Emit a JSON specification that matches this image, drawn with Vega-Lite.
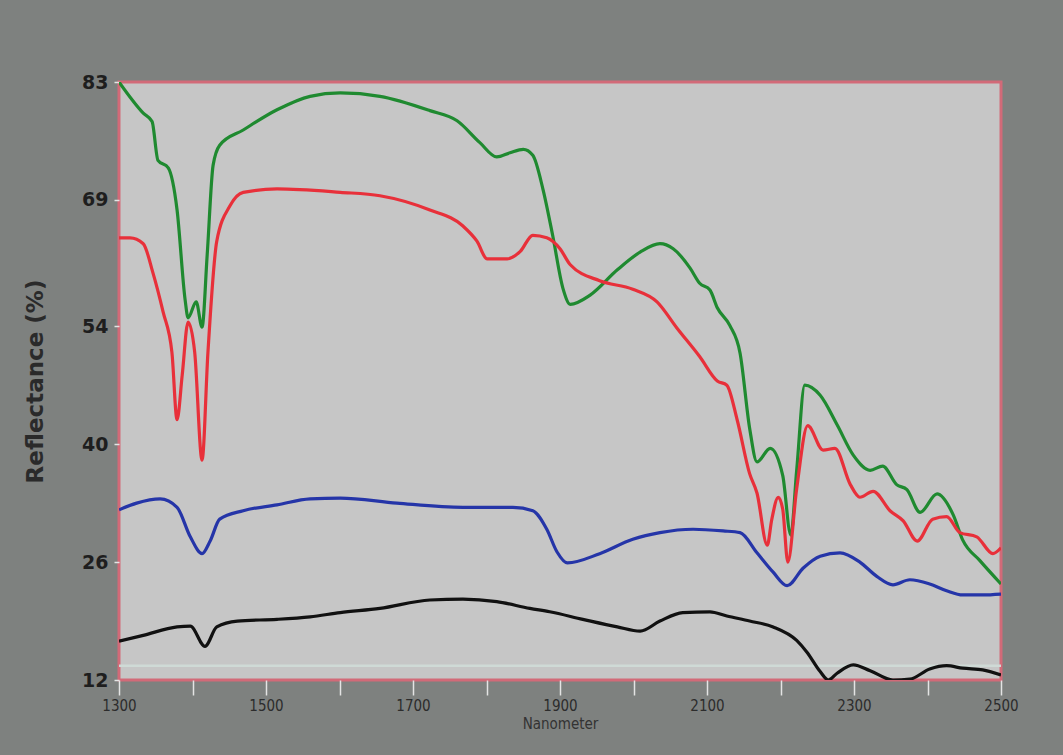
{
  "$schema": "https://vega.github.io/schema/vega-lite/v6.json",
  "width": 882,
  "height": 598,
  "autosize": {"type": "none"},
  "padding": {"left": 119, "top": 82, "right": 62, "bottom": 75},
  "background": "#7e817f",
  "config": {
    "view": {"fill": "#c6c6c6", "stroke": "#d26a78", "strokeWidth": 3},
    "axis": {"grid": false, "domain": false, "labelFlush": false, "labelOverlap": false, "labelFont": "DejaVu Sans Condensed, DejaVu Sans, sans-serif", "titleFont": "DejaVu Sans, sans-serif"}
  },
  "datasets": {
    "spectra": [
      {"series": "green", "nm": 1300, "r": 83.0},
      {"series": "green", "nm": 1333, "r": 79.3},
      {"series": "green", "nm": 1345, "r": 78.3},
      {"series": "green", "nm": 1353, "r": 73.7},
      {"series": "green", "nm": 1367, "r": 72.8},
      {"series": "green", "nm": 1379, "r": 67.8},
      {"series": "green", "nm": 1390, "r": 57.1},
      {"series": "green", "nm": 1394, "r": 55.0},
      {"series": "green", "nm": 1405, "r": 56.9},
      {"series": "green", "nm": 1413, "r": 53.9},
      {"series": "green", "nm": 1420, "r": 62.5},
      {"series": "green", "nm": 1428, "r": 73.1},
      {"series": "green", "nm": 1437, "r": 75.5},
      {"series": "green", "nm": 1469, "r": 77.3},
      {"series": "green", "nm": 1515, "r": 79.7},
      {"series": "green", "nm": 1560, "r": 81.3},
      {"series": "green", "nm": 1601, "r": 81.7},
      {"series": "green", "nm": 1655, "r": 81.3},
      {"series": "green", "nm": 1723, "r": 79.6},
      {"series": "green", "nm": 1760, "r": 78.4},
      {"series": "green", "nm": 1791, "r": 75.8},
      {"series": "green", "nm": 1814, "r": 74.1},
      {"series": "green", "nm": 1832, "r": 74.6},
      {"series": "green", "nm": 1850, "r": 75.0},
      {"series": "green", "nm": 1863, "r": 74.3},
      {"series": "green", "nm": 1877, "r": 70.2},
      {"series": "green", "nm": 1890, "r": 64.8},
      {"series": "green", "nm": 1904, "r": 58.5},
      {"series": "green", "nm": 1914, "r": 56.6},
      {"series": "green", "nm": 1941, "r": 57.7},
      {"series": "green", "nm": 1978, "r": 60.7},
      {"series": "green", "nm": 2009, "r": 62.8},
      {"series": "green", "nm": 2036, "r": 63.8},
      {"series": "green", "nm": 2054, "r": 63.2},
      {"series": "green", "nm": 2077, "r": 60.9},
      {"series": "green", "nm": 2090, "r": 59.1},
      {"series": "green", "nm": 2104, "r": 58.3},
      {"series": "green", "nm": 2114, "r": 56.2},
      {"series": "green", "nm": 2131, "r": 54.1},
      {"series": "green", "nm": 2145, "r": 50.8},
      {"series": "green", "nm": 2158, "r": 41.9},
      {"series": "green", "nm": 2168, "r": 37.9},
      {"series": "green", "nm": 2186, "r": 39.5},
      {"series": "green", "nm": 2203, "r": 36.3},
      {"series": "green", "nm": 2214, "r": 29.2},
      {"series": "green", "nm": 2222, "r": 36.9},
      {"series": "green", "nm": 2233, "r": 47.0},
      {"series": "green", "nm": 2254, "r": 45.8},
      {"series": "green", "nm": 2277, "r": 42.3},
      {"series": "green", "nm": 2299, "r": 38.7},
      {"series": "green", "nm": 2322, "r": 36.9},
      {"series": "green", "nm": 2339, "r": 37.4},
      {"series": "green", "nm": 2358, "r": 35.2},
      {"series": "green", "nm": 2372, "r": 34.6},
      {"series": "green", "nm": 2390, "r": 31.9},
      {"series": "green", "nm": 2413, "r": 34.1},
      {"series": "green", "nm": 2435, "r": 31.6},
      {"series": "green", "nm": 2448, "r": 28.6},
      {"series": "green", "nm": 2471, "r": 26.2},
      {"series": "green", "nm": 2500, "r": 23.4},

      {"series": "red", "nm": 1300, "r": 64.5},
      {"series": "red", "nm": 1315, "r": 64.5},
      {"series": "red", "nm": 1333, "r": 63.8},
      {"series": "red", "nm": 1346, "r": 60.4},
      {"series": "red", "nm": 1360, "r": 55.7},
      {"series": "red", "nm": 1372, "r": 50.9},
      {"series": "red", "nm": 1379, "r": 42.9},
      {"series": "red", "nm": 1386, "r": 48.2},
      {"series": "red", "nm": 1394, "r": 54.5},
      {"series": "red", "nm": 1403, "r": 50.9},
      {"series": "red", "nm": 1413, "r": 38.1},
      {"series": "red", "nm": 1421, "r": 50.9},
      {"series": "red", "nm": 1433, "r": 64.1},
      {"series": "red", "nm": 1451, "r": 68.3},
      {"series": "red", "nm": 1469, "r": 69.9},
      {"series": "red", "nm": 1515, "r": 70.3},
      {"series": "red", "nm": 1601, "r": 69.9},
      {"series": "red", "nm": 1655, "r": 69.5},
      {"series": "red", "nm": 1723, "r": 67.8},
      {"series": "red", "nm": 1768, "r": 65.9},
      {"series": "red", "nm": 1787, "r": 64.1},
      {"series": "red", "nm": 1801, "r": 62.0},
      {"series": "red", "nm": 1828, "r": 62.0},
      {"series": "red", "nm": 1846, "r": 62.9},
      {"series": "red", "nm": 1863, "r": 64.8},
      {"series": "red", "nm": 1882, "r": 64.5},
      {"series": "red", "nm": 1900, "r": 63.2},
      {"series": "red", "nm": 1914, "r": 61.3},
      {"series": "red", "nm": 1954, "r": 59.4},
      {"series": "red", "nm": 1999, "r": 58.4},
      {"series": "red", "nm": 2032, "r": 56.9},
      {"series": "red", "nm": 2059, "r": 53.8},
      {"series": "red", "nm": 2090, "r": 50.4},
      {"series": "red", "nm": 2114, "r": 47.5},
      {"series": "red", "nm": 2127, "r": 47.0},
      {"series": "red", "nm": 2141, "r": 42.9},
      {"series": "red", "nm": 2158, "r": 36.5},
      {"series": "red", "nm": 2168, "r": 34.2},
      {"series": "red", "nm": 2182, "r": 28.0},
      {"series": "red", "nm": 2188, "r": 31.0},
      {"series": "red", "nm": 2197, "r": 33.7},
      {"series": "red", "nm": 2203, "r": 32.3},
      {"series": "red", "nm": 2210, "r": 26.0},
      {"series": "red", "nm": 2222, "r": 34.7},
      {"series": "red", "nm": 2237, "r": 42.2},
      {"series": "red", "nm": 2258, "r": 39.3},
      {"series": "red", "nm": 2274, "r": 39.5},
      {"series": "red", "nm": 2295, "r": 35.2},
      {"series": "red", "nm": 2308, "r": 33.7},
      {"series": "red", "nm": 2326, "r": 34.4},
      {"series": "red", "nm": 2349, "r": 32.1},
      {"series": "red", "nm": 2367, "r": 30.9},
      {"series": "red", "nm": 2386, "r": 28.5},
      {"series": "red", "nm": 2407, "r": 31.1},
      {"series": "red", "nm": 2426, "r": 31.4},
      {"series": "red", "nm": 2444, "r": 29.5},
      {"series": "red", "nm": 2467, "r": 29.0},
      {"series": "red", "nm": 2489, "r": 27.0},
      {"series": "red", "nm": 2500, "r": 27.7},

      {"series": "blue", "nm": 1300, "r": 32.2},
      {"series": "blue", "nm": 1324, "r": 33.0},
      {"series": "blue", "nm": 1356, "r": 33.5},
      {"series": "blue", "nm": 1379, "r": 32.5},
      {"series": "blue", "nm": 1397, "r": 29.0},
      {"series": "blue", "nm": 1413, "r": 27.0},
      {"series": "blue", "nm": 1424, "r": 28.5},
      {"series": "blue", "nm": 1437, "r": 31.1},
      {"series": "blue", "nm": 1469, "r": 32.1},
      {"series": "blue", "nm": 1515, "r": 32.8},
      {"series": "blue", "nm": 1560, "r": 33.5},
      {"series": "blue", "nm": 1601, "r": 33.6},
      {"series": "blue", "nm": 1678, "r": 33.0},
      {"series": "blue", "nm": 1768, "r": 32.5},
      {"series": "blue", "nm": 1836, "r": 32.5},
      {"series": "blue", "nm": 1863, "r": 32.1},
      {"series": "blue", "nm": 1882, "r": 29.9},
      {"series": "blue", "nm": 1896, "r": 27.2},
      {"series": "blue", "nm": 1910, "r": 25.9},
      {"series": "blue", "nm": 1954, "r": 27.0},
      {"series": "blue", "nm": 1999, "r": 28.7},
      {"series": "blue", "nm": 2036, "r": 29.5},
      {"series": "blue", "nm": 2081, "r": 29.9},
      {"series": "blue", "nm": 2122, "r": 29.7},
      {"series": "blue", "nm": 2145, "r": 29.5},
      {"series": "blue", "nm": 2168, "r": 27.1},
      {"series": "blue", "nm": 2190, "r": 24.8},
      {"series": "blue", "nm": 2209, "r": 23.2},
      {"series": "blue", "nm": 2231, "r": 25.3},
      {"series": "blue", "nm": 2254, "r": 26.7},
      {"series": "blue", "nm": 2281, "r": 27.1},
      {"series": "blue", "nm": 2308, "r": 26.0},
      {"series": "blue", "nm": 2331, "r": 24.3},
      {"series": "blue", "nm": 2353, "r": 23.3},
      {"series": "blue", "nm": 2376, "r": 23.9},
      {"series": "blue", "nm": 2403, "r": 23.4},
      {"series": "blue", "nm": 2426, "r": 22.6},
      {"series": "blue", "nm": 2448, "r": 22.1},
      {"series": "blue", "nm": 2475, "r": 22.1},
      {"series": "blue", "nm": 2500, "r": 22.2},

      {"series": "black", "nm": 1300, "r": 16.6},
      {"series": "black", "nm": 1333, "r": 17.3},
      {"series": "black", "nm": 1379, "r": 18.3},
      {"series": "black", "nm": 1397, "r": 18.4},
      {"series": "black", "nm": 1417, "r": 16.0},
      {"series": "black", "nm": 1433, "r": 18.3},
      {"series": "black", "nm": 1461, "r": 19.0},
      {"series": "black", "nm": 1515, "r": 19.2},
      {"series": "black", "nm": 1560, "r": 19.5},
      {"series": "black", "nm": 1601, "r": 20.0},
      {"series": "black", "nm": 1655, "r": 20.5},
      {"series": "black", "nm": 1723, "r": 21.5},
      {"series": "black", "nm": 1768, "r": 21.6},
      {"series": "black", "nm": 1814, "r": 21.3},
      {"series": "black", "nm": 1859, "r": 20.5},
      {"series": "black", "nm": 1886, "r": 20.1},
      {"series": "black", "nm": 1931, "r": 19.2},
      {"series": "black", "nm": 1978, "r": 18.3},
      {"series": "black", "nm": 2009, "r": 17.8},
      {"series": "black", "nm": 2036, "r": 19.0},
      {"series": "black", "nm": 2067, "r": 20.0},
      {"series": "black", "nm": 2104, "r": 20.1},
      {"series": "black", "nm": 2127, "r": 19.6},
      {"series": "black", "nm": 2158, "r": 19.0},
      {"series": "black", "nm": 2190, "r": 18.3},
      {"series": "black", "nm": 2222, "r": 16.7},
      {"series": "black", "nm": 2236, "r": 15.3},
      {"series": "black", "nm": 2254, "r": 13.0},
      {"series": "black", "nm": 2265, "r": 12.0},
      {"series": "black", "nm": 2277, "r": 12.8},
      {"series": "black", "nm": 2299, "r": 13.8},
      {"series": "black", "nm": 2322, "r": 13.1},
      {"series": "black", "nm": 2353, "r": 12.0},
      {"series": "black", "nm": 2376, "r": 12.1},
      {"series": "black", "nm": 2403, "r": 13.3},
      {"series": "black", "nm": 2426, "r": 13.7},
      {"series": "black", "nm": 2448, "r": 13.4},
      {"series": "black", "nm": 2475, "r": 13.2},
      {"series": "black", "nm": 2500, "r": 12.6}
    ]
  },
  "layer": [
    {
      "data": {"values": [{"level": 13.7}]},
      "mark": {"type": "rule", "color": "#cfdad6", "strokeWidth": 2.5},
      "encoding": {"y": {"field": "level", "type": "quantitative"}}
    },
    {
      "data": {"name": "spectra"},
      "mark": {"type": "line", "strokeWidth": 3.2, "interpolate": "monotone", "clip": true},
      "encoding": {
        "x": {
          "field": "nm", "type": "quantitative",
          "scale": {"domain": [1300, 2500], "nice": false, "zero": false},
          "axis": {
            "values": [1300, 1400, 1500, 1600, 1700, 1800, 1900, 2000, 2100, 2200, 2300, 2400, 2500],
            "labelExpr": "datum.value % 200 == 100 ? datum.value : ''",
            "tickColor": "#e4e4e4", "tickSize": 15, "tickWidth": 1.5,
            "labelFontSize": 15, "labelColor": "#2c2c2c", "labelPadding": 3,
            "title": "Nanometer", "titleFontSize": 15, "titleFontWeight": "normal",
            "titleFont": "DejaVu Sans Condensed, DejaVu Sans, sans-serif", "titleColor": "#333333", "titlePadding": 3
          }
        },
        "y": {
          "field": "r", "type": "quantitative",
          "scale": {"domain": [12, 83], "nice": false, "zero": false},
          "axis": {
            "values": [12, 26, 40, 54, 69, 83],
            "tickColor": "#e4e4e4", "tickSize": 5, "tickWidth": 1.5,
            "labelFont": "DejaVu Sans, sans-serif", "labelFontWeight": "bold",
            "labelFontSize": 19, "labelColor": "#1e1e1e", "labelPadding": 6,
            "title": "Reflectance (%)", "titleFontSize": 23, "titleFontWeight": "bold",
            "titleColor": "#2a2a2a", "titlePadding": 34
          }
        },
        "color": {
          "field": "series", "type": "nominal",
          "scale": {"domain": ["green", "red", "blue", "black"], "range": ["#1f8a30", "#e8303a", "#2535a8", "#111111"]},
          "legend": null
        },
        "detail": {"field": "series"}
      }
    }
  ]
}
